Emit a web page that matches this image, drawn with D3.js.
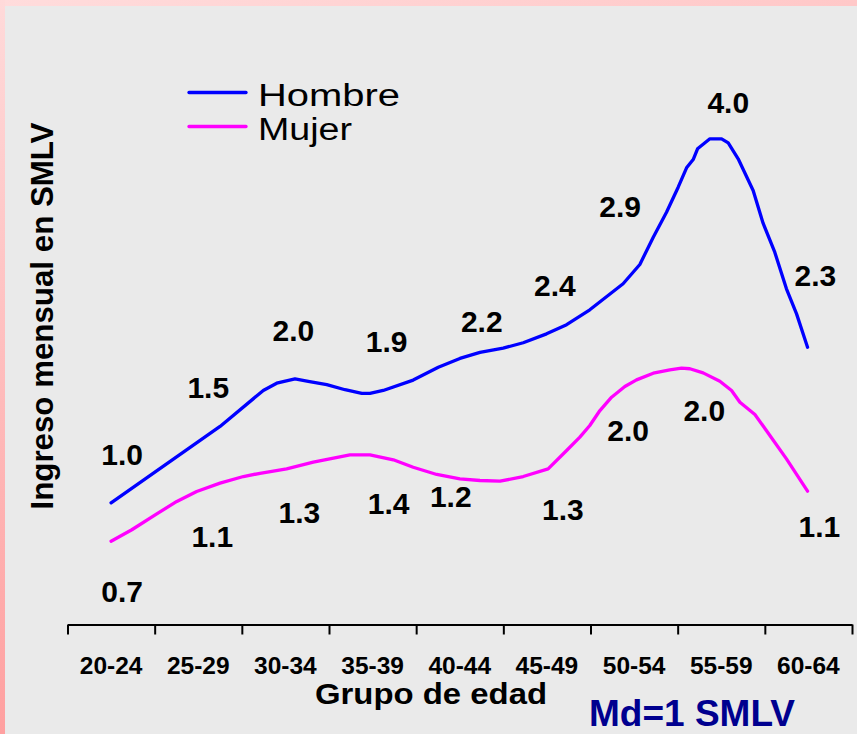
<!DOCTYPE html>
<html><head><meta charset="utf-8">
<script src="https://cdn.jsdelivr.net/npm/d3@7"></script>
<style>
body{margin:0;background:#fff;}
svg{display:block;}
text{font-family:"Liberation Sans",Arial,Helvetica,sans-serif;}
</style>
</head><body>
<svg id="chart" width="857" height="734"></svg>
<script>
// ---------- data ----------
const categories = ["20-24","25-29","30-34","35-39","40-44","45-49","50-54","55-59","60-64"];
const ageBoundaries = [19.5,24.5,29.5,34.5,39.5,44.5,49.5,54.5,59.5,64.5];

// Hombre curve (age, SMLV)
const hombreAge = [22.0,28.25,30.73,31.5,32.55,33.31,34.37,35.42,36.38,36.85,37.61,39.33,40.77,42.01,43.16,44.49,45.64,46.98,48.13,49.46,51.37,52.33,53.1,53.86,54.53,55.01,55.39,55.64,56.35,57.02,57.4,57.97,58.83,59.4,60.07,60.74,61.32,61.95];
const hombreValue = [1.01,1.645,1.944,2.004,2.04,2.02,1.993,1.95,1.92,1.92,1.944,2.03,2.137,2.21,2.26,2.295,2.34,2.414,2.49,2.614,2.83,2.99,3.217,3.424,3.632,3.793,3.862,3.951,4.034,4.034,4.0,3.868,3.605,3.333,3.092,2.788,2.58,2.303];

// Mujer curve (age, SMLV)
const mujerAge = [22.0,23.19,24.62,25.77,26.91,28.25,29.59,30.54,32.07,33.6,35.7,36.85,38.19,39.33,40.68,42.01,43.16,44.31,45.64,47.07,48.13,48.89,49.46,50.04,50.71,51.47,52.14,53.1,54.05,54.72,55.2,55.96,56.92,57.59,58.07,58.93,59.79,60.74,61.95];
const mujerValue = [0.692,0.787,0.919,1.022,1.105,1.174,1.229,1.256,1.293,1.348,1.409,1.409,1.368,1.306,1.246,1.21,1.196,1.19,1.229,1.293,1.445,1.556,1.653,1.777,1.888,1.977,2.032,2.087,2.115,2.129,2.124,2.09,2.021,1.944,1.846,1.744,1.57,1.376,1.107];

// value labels per age group
const hombreLabels = [1.0,1.5,2.0,1.9,2.2,2.4,2.9,4.0,2.3];
const mujerLabels  = [0.7,1.1,1.3,1.4,1.2,1.3,2.0,2.0,1.1];

const seriesNames = ["Hombre","Mujer"];

// ---------- layout (pixel offsets for label placement) ----------
const hombreLabelDx = [11,10,8,14,22,8,-14,7,7];
const hombreLabelDy = [-39,-46,-43,-44,-28,-40,-58,-30,-62];
const mujerLabelDx  = [11,14,14,16,-9,16,-6,-17,11];
const mujerLabelDy  = [62,55,55,58,27,52,57,37,45];

const W = 857, H = 734;
const svg = d3.select("#chart");

// background
const defs = svg.append("defs");
const grad = defs.append("linearGradient").attr("id","bgGrad")
  .attr("x1","0").attr("y1","0").attr("x2","1").attr("y2","1");
grad.append("stop").attr("offset","0%").attr("stop-color","#FFDCDC");
grad.append("stop").attr("offset","50%").attr("stop-color","#FFC8C8");
grad.append("stop").attr("offset","100%").attr("stop-color","#FFA4A4");
svg.append("rect").attr("width",W).attr("height",H).attr("fill","url(#bgGrad)");
const leftGrad = defs.append("linearGradient").attr("id","leftGrad")
  .attr("x1","0").attr("y1","0").attr("x2","0").attr("y2","1");
leftGrad.append("stop").attr("offset","0%").attr("stop-color","#FFDADA");
leftGrad.append("stop").attr("offset","100%").attr("stop-color","#FFA0A0");
svg.append("rect").attr("x",0).attr("y",0).attr("width",5).attr("height",H).attr("fill","url(#leftGrad)");
svg.append("rect").attr("x",5).attr("y",6).attr("width",W-5).attr("height",H-6).attr("fill","#EAEAEA");

// scales
const x0 = 67.5, x1 = 852, yBase = 624.5, yTop = 22.5;
const xAge = d3.scaleLinear().domain([19.5,64.5]).range([x0,x1]);
const xBand = d3.scaleBand().domain(categories).range([x0,x1]).padding(0);
const y = d3.scaleLinear().domain([0,5]).range([yBase,yTop]);
const cx = c => xBand(c) + xBand.bandwidth()/2;

// axis with tick marks at group boundaries
const axisG = svg.append("g").attr("transform",`translate(0,${yBase})`)
  .call(d3.axisBottom(xAge).tickValues(ageBoundaries).tickSize(10).tickSizeOuter(0).tickFormat(""));
axisG.select(".domain").attr("stroke","#000").attr("stroke-width",2);
axisG.selectAll(".tick line").attr("stroke","#000").attr("stroke-width",2);

// category labels
const labG = svg.append("g").attr("transform",`translate(0,${yBase})`)
  .call(d3.axisBottom(xBand).tickSize(0).tickPadding(0));
labG.select(".domain").remove();
labG.selectAll(".tick text")
  .attr("y",49).attr("dy",null)
  .attr("font-size",24.5).attr("font-weight","bold").attr("fill","#000")
  .attr("font-family","Liberation Sans, Arial, sans-serif");

// axis titles
svg.append("text").attr("x",431).attr("y",704).attr("text-anchor","middle")
  .attr("font-size",30).attr("font-weight","bold").attr("fill","#000")
  .attr("textLength",232).attr("lengthAdjust","spacingAndGlyphs")
  .text("Grupo de edad");
svg.append("text").attr("transform","translate(53,316) rotate(-90)")
  .attr("text-anchor","middle").attr("font-size",31).attr("font-weight","bold").attr("fill","#000")
  .attr("textLength",387).attr("lengthAdjust","spacingAndGlyphs")
  .text("Ingreso mensual en SMLV");
svg.append("text").attr("x",692).attr("y",726).attr("text-anchor","middle")
  .attr("font-size",37).attr("font-weight","bold").attr("fill","#00008F")
  .attr("textLength",206).attr("lengthAdjust","spacingAndGlyphs")
  .text("Md=1 SMLV");

// lines
const line = d3.line().x(d => xAge(d[0])).y(d => y(d[1])).curve(d3.curveLinear);
const hombreData = hombreAge.map((a,i) => [a, hombreValue[i]]);
const mujerData = mujerAge.map((a,i) => [a, mujerValue[i]]);
const colors = {Hombre:"#0000FF", Mujer:"#FF00FF"};
svg.append("path").datum(mujerData).attr("d",line).attr("fill","none")
  .attr("stroke",colors.Mujer).attr("stroke-width",3.3).attr("stroke-linejoin","round").attr("stroke-linecap","round");
svg.append("path").datum(hombreData).attr("d",line).attr("fill","none")
  .attr("stroke",colors.Hombre).attr("stroke-width",3.3).attr("stroke-linejoin","round").attr("stroke-linecap","round");

// value labels
function drawLabels(vals, dxs, dys){
  svg.append("g").selectAll("text").data(categories).join("text")
    .attr("x",(c,i) => cx(c) + dxs[i])
    .attr("y",(c,i) => y(vals[i]) + dys[i])
    .attr("text-anchor","middle").attr("font-size",30).attr("font-weight","bold").attr("fill","#000")
    .text((c,i) => d3.format(".1f")(vals[i]));
}
drawLabels(hombreLabels, hombreLabelDx, hombreLabelDy);
drawLabels(mujerLabels, mujerLabelDx, mujerLabelDy);

// legend
const legend = svg.append("g");
seriesNames.forEach((s,i) => {
  const ly = 92.5 + i*34;
  legend.append("line").attr("x1",189).attr("x2",246).attr("y1",ly).attr("y2",ly)
    .attr("stroke",colors[s]).attr("stroke-width",3.3).attr("stroke-linecap","round");
  legend.append("text").attr("x",258).attr("y",ly+13)
    .attr("font-size",31).attr("fill","#000")
    .attr("textLength", s === "Hombre" ? 142 : 94).attr("lengthAdjust","spacingAndGlyphs")
    .text(s);
});
</script>
</body></html>
